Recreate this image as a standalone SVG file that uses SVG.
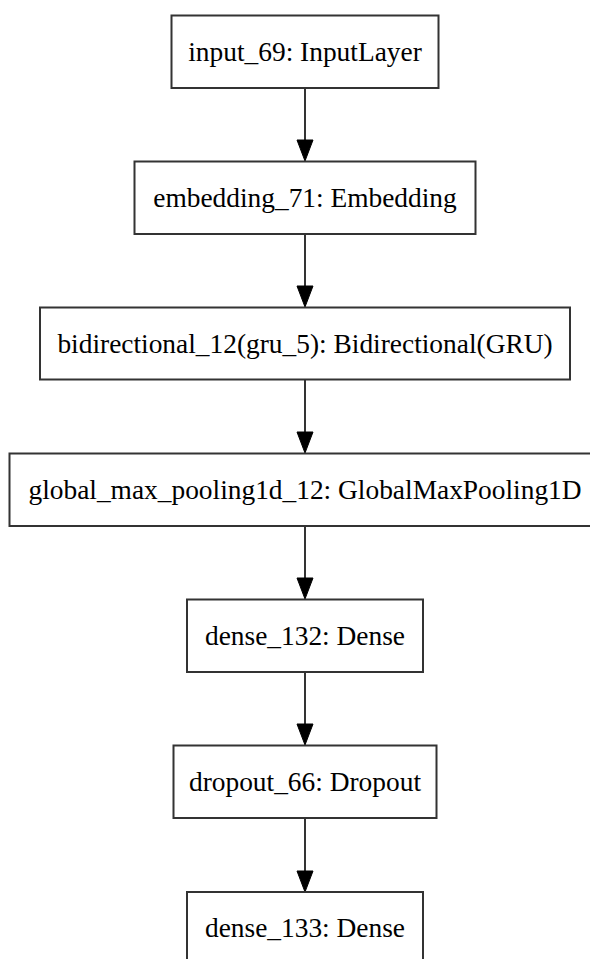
<svg xmlns="http://www.w3.org/2000/svg" width="590" height="959" viewBox="0 0 590 959">
<defs>
<style>
.box{fill:#fff;stroke:#333;stroke-width:2}
.lbl{font-family:"Liberation Serif","Times New Roman",serif;font-size:27.4px;fill:#000;text-anchor:middle}
.edge{stroke:#000;stroke-width:1.6;fill:none}
.head{fill:#000;stroke:#000;stroke-width:1}
</style>
</defs>
<rect width="590" height="959" fill="#fff"/>
<g id="connectors">
<path class="edge" d="M305,88 V140"/>
<path class="head" d="M297,140 L313,140 L305,161 Z"/>
<path class="edge" d="M305,234 V286"/>
<path class="head" d="M297,286 L313,286 L305,307 Z"/>
<path class="edge" d="M305,380 V432"/>
<path class="head" d="M297,432 L313,432 L305,453 Z"/>
<path class="edge" d="M305,526 V578"/>
<path class="head" d="M297,578 L313,578 L305,599 Z"/>
<path class="edge" d="M305,672 V724"/>
<path class="head" d="M297,724 L313,724 L305,745 Z"/>
<path class="edge" d="M305,818 V871"/>
<path class="head" d="M297,871 L313,871 L305,892 Z"/>
</g>
<g id="input_69">
<rect class="box" x="171.5" y="15.5" width="267" height="72.5"/>
<text class="lbl" x="305" y="61">input_69: InputLayer</text>
</g>
<g id="embedding_71">
<rect class="box" x="134.5" y="161.5" width="341" height="72.5"/>
<text class="lbl" x="305" y="207">embedding_71: Embedding</text>
</g>
<g id="bidirectional_12">
<rect class="box" x="40" y="307.5" width="530" height="72"/>
<text class="lbl" x="305" y="353">bidirectional_12(gru_5): Bidirectional(GRU)</text>
</g>
<g id="global_max_pooling1d_12">
<rect class="box" x="9.5" y="453.5" width="591" height="72.5"/>
<text class="lbl" x="305" y="499">global_max_pooling1d_12: GlobalMaxPooling1D</text>
</g>
<g id="dense_132">
<rect class="box" x="187" y="599.5" width="236" height="72.5"/>
<text class="lbl" x="305" y="645">dense_132: Dense</text>
</g>
<g id="dropout_66">
<rect class="box" x="173.5" y="745.5" width="263" height="72.5"/>
<text class="lbl" x="305" y="791">dropout_66: Dropout</text>
</g>
<g id="dense_133">
<rect class="box" x="187" y="892" width="236" height="72.5"/>
<text class="lbl" x="305" y="937">dense_133: Dense</text>
</g>
</svg>
